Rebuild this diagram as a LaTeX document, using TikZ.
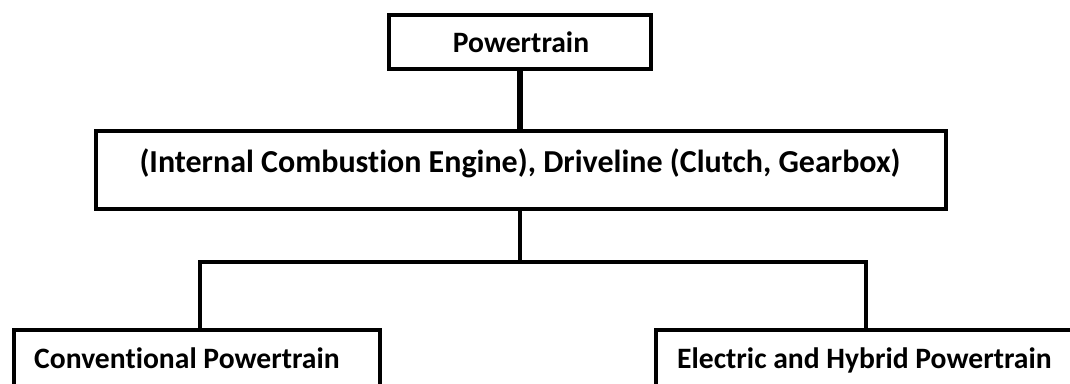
\documentclass[tikz,border=0pt]{standalone}
\usepackage{fontspec}
\setmainfont[Ligatures=NoCommon]{Carlito}
\begin{document}
\begin{tikzpicture}[x=1pt,y=-1pt,
  box/.style={draw=black,line width=4pt,rectangle,inner sep=0pt,fill=white},
  lbl/.style={font=\fontsize{29.6}{34}\selectfont\bfseries,inner sep=0pt,anchor=base},
  biglbl/.style={lbl,font=\fontsize{32}{38}\selectfont\bfseries},
  conn/.style={draw=black,line width=4pt},
  thickconn/.style={draw=black,line width=5.5pt}]
\useasboundingbox (0,0) rectangle (1070,383);
\clip (0,0) rectangle (1070,383);
\fill[white] (0,0) rectangle (1070,383);
% boxes
\node[box,minimum width=262pt,minimum height=54pt] (pt) at (520,42) {};
\node[box,minimum width=850pt,minimum height=78pt] (ice) at (521,170) {};
\node[box,minimum width=366pt,minimum height=90pt] (conv) at (197,375) {};
\node[box,minimum width=460pt,minimum height=90pt] (ehp) at (886,375) {};
% texts
\node[lbl] (tpt) at (521,52) {Powertrain};
\node[biglbl] (tice) at (520,172) {(Internal Combustion Engine), Driveline (Clutch, Gearbox)};
\node[lbl,anchor=base west] (tconv) at (34,368) {Conventional Powertrain};
\node[lbl,anchor=base west] (tehp) at (677,368) {Electric and Hybrid Powertrain};
% connectors
\coordinate (jl) at (200,262);
\coordinate (jr) at (866,262);
\draw[thickconn] (pt.south) -- (pt.south |- ice.north);
\draw[conn] (ice.south -| pt.south) -- (pt.south |- jl);
\draw[conn,line cap=rect] (jl) -- (jr);
\draw[conn] (jl) -- (jl |- conv.north);
\draw[conn] (jr) -- (jr |- ehp.north);
\end{tikzpicture}
\end{document}
